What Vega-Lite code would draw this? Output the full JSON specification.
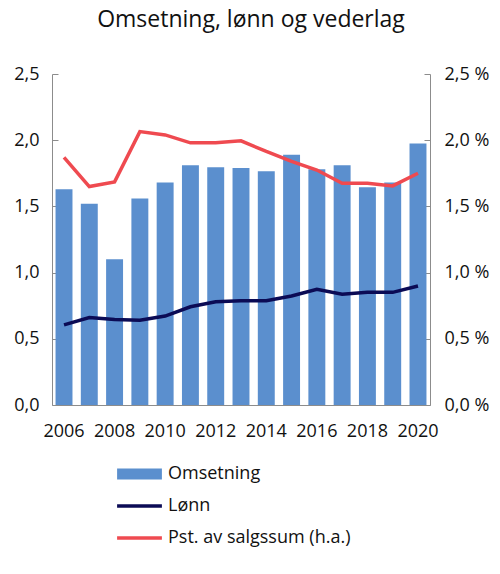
{
  "$schema": "https://vega.github.io/schema/vega-lite/v6.json",
  "autosize": "none",
  "width": 378,
  "height": 331,
  "padding": {"left": 52, "top": 74, "right": 70, "bottom": 169},
  "title": {
    "text": "Omsetning, lønn og vederlag",
    "font": "Open Sans",
    "fontSize": 23,
    "fontWeight": "normal",
    "color": "#111",
    "anchor": "middle",
    "offset": 33,
    "dx": 10
  },
  "config": {
    "view": {"stroke": null},
    "axis": {
      "labelFont": "Open Sans",
      "labelFontSize": 18,
      "labelColor": "#111",
      "domainColor": "#8c8c8c",
      "tickColor": "#8c8c8c",
      "grid": false,
      "title": null
    }
  },
  "data": {
    "values": [
      {"year": 2006, "series": "Omsetning", "value": 1.63},
      {"year": 2007, "series": "Omsetning", "value": 1.52},
      {"year": 2008, "series": "Omsetning", "value": 1.10},
      {"year": 2009, "series": "Omsetning", "value": 1.56},
      {"year": 2010, "series": "Omsetning", "value": 1.68},
      {"year": 2011, "series": "Omsetning", "value": 1.81},
      {"year": 2012, "series": "Omsetning", "value": 1.795},
      {"year": 2013, "series": "Omsetning", "value": 1.79},
      {"year": 2014, "series": "Omsetning", "value": 1.765},
      {"year": 2015, "series": "Omsetning", "value": 1.89},
      {"year": 2016, "series": "Omsetning", "value": 1.78},
      {"year": 2017, "series": "Omsetning", "value": 1.81},
      {"year": 2018, "series": "Omsetning", "value": 1.645},
      {"year": 2019, "series": "Omsetning", "value": 1.68},
      {"year": 2020, "series": "Omsetning", "value": 1.975},
      {"year": 2006, "series": "Lønn", "value": 0.605},
      {"year": 2007, "series": "Lønn", "value": 0.66},
      {"year": 2008, "series": "Lønn", "value": 0.645},
      {"year": 2009, "series": "Lønn", "value": 0.64},
      {"year": 2010, "series": "Lønn", "value": 0.672},
      {"year": 2011, "series": "Lønn", "value": 0.742},
      {"year": 2012, "series": "Lønn", "value": 0.78},
      {"year": 2013, "series": "Lønn", "value": 0.788},
      {"year": 2014, "series": "Lønn", "value": 0.788},
      {"year": 2015, "series": "Lønn", "value": 0.823},
      {"year": 2016, "series": "Lønn", "value": 0.874},
      {"year": 2017, "series": "Lønn", "value": 0.836},
      {"year": 2018, "series": "Lønn", "value": 0.851},
      {"year": 2019, "series": "Lønn", "value": 0.851},
      {"year": 2020, "series": "Lønn", "value": 0.899},
      {"year": 2006, "series": "Pst. av salgssum (h.a.)", "value": 1.87},
      {"year": 2007, "series": "Pst. av salgssum (h.a.)", "value": 1.65},
      {"year": 2008, "series": "Pst. av salgssum (h.a.)", "value": 1.685},
      {"year": 2009, "series": "Pst. av salgssum (h.a.)", "value": 2.065},
      {"year": 2010, "series": "Pst. av salgssum (h.a.)", "value": 2.04},
      {"year": 2011, "series": "Pst. av salgssum (h.a.)", "value": 1.98},
      {"year": 2012, "series": "Pst. av salgssum (h.a.)", "value": 1.98},
      {"year": 2013, "series": "Pst. av salgssum (h.a.)", "value": 1.995},
      {"year": 2014, "series": "Pst. av salgssum (h.a.)", "value": 1.915},
      {"year": 2015, "series": "Pst. av salgssum (h.a.)", "value": 1.84},
      {"year": 2016, "series": "Pst. av salgssum (h.a.)", "value": 1.775},
      {"year": 2017, "series": "Pst. av salgssum (h.a.)", "value": 1.675},
      {"year": 2018, "series": "Pst. av salgssum (h.a.)", "value": 1.675},
      {"year": 2019, "series": "Pst. av salgssum (h.a.)", "value": 1.655},
      {"year": 2020, "series": "Pst. av salgssum (h.a.)", "value": 1.75}
    ]
  },
  "encoding": {
    "x": {
      "field": "year",
      "type": "ordinal",
      "scale": {"paddingInner": 0.33, "paddingOuter": 0.14},
      "axis": {
        "values": [2006, 2008, 2010, 2012, 2014, 2016, 2018, 2020],
        "labelAngle": 0,
        "ticks": false,
        "labelPadding": 17
      }
    },
    "color": {
      "field": "series",
      "type": "nominal",
      "scale": {
        "domain": ["Omsetning", "Lønn", "Pst. av salgssum (h.a.)"],
        "range": ["#5b8fce", "#0b0b55", "#ef4a50"]
      },
      "legend": {
        "orient": "none",
        "legendX": 78.5,
        "legendY": 391,
        "title": null,
        "padding": 0,
        "symbolSize": 256,
        "labelFont": "Open Sans",
        "labelFontSize": 18,
        "labelColor": "#111",
        "labelLimit": 400,
        "labelOffset": 19.5,
        "rowPadding": 14,
        "encode": {
          "symbols": {
            "update": {
              "shape": {"signal": "datum.value === 'Omsetning' ? 'M-2.8,-0.7H2.8V0.7H-2.8Z' : 'M-2.8,-0.22H2.8V0.22H-2.8Z'"},
              "fill": {"scale": "color", "field": "value"},
              "strokeWidth": {"value": 0},
              "opacity": {"value": 1}
            }
          }
        }
      }
    }
  },
  "layer": [
    {
      "transform": [{"filter": "datum.series === 'Omsetning'"}],
      "mark": {"type": "bar"},
      "encoding": {
        "y": {
          "field": "value",
          "type": "quantitative",
          "scale": {"domain": [0, 2.5]},
          "axis": {
            "orient": "left",
            "values": [0, 0.5, 1, 1.5, 2, 2.5],
            "tickSize": -6,
            "labelPadding": 19,
            "labelExpr": "replace(format(datum.value, '.1f'), '.', ',')"
          }
        }
      }
    },
    {
      "transform": [{"filter": "datum.series === 'Lønn'"}],
      "mark": {"type": "line", "strokeWidth": 3.5},
      "encoding": {
        "y": {
          "field": "value",
          "type": "quantitative",
          "scale": {"domain": [0, 2.5]},
          "axis": null
        }
      }
    },
    {
      "transform": [{"filter": "datum.series === 'Pst. av salgssum (h.a.)'"}],
      "mark": {"type": "line", "strokeWidth": 3.5},
      "encoding": {
        "y": {
          "field": "value",
          "type": "quantitative",
          "scale": {"domain": [0, 2.5]},
          "axis": {
            "orient": "right",
            "values": [0, 0.5, 1, 1.5, 2, 2.5],
            "tickSize": -6,
            "labelPadding": 20,
            "labelExpr": "replace(format(datum.value, '.1f'), '.', ',') + ' %'"
          }
        }
      }
    }
  ],
  "resolve": {"scale": {"y": "independent"}}
}
